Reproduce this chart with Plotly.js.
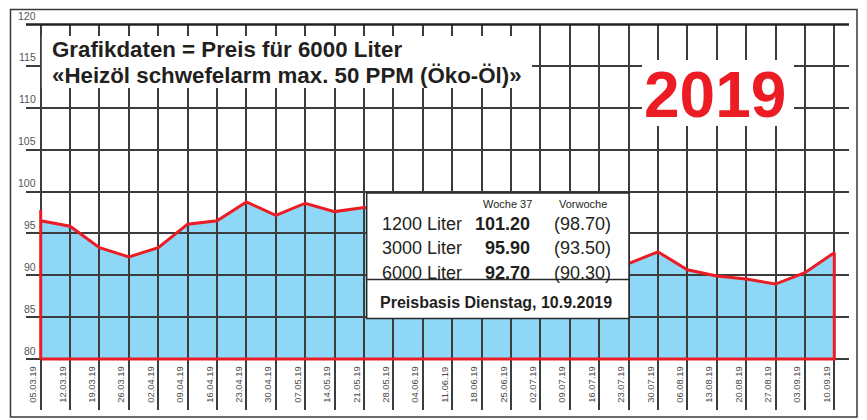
<!DOCTYPE html>
<html>
<head>
<meta charset="utf-8">
<script src="https://cdn.plot.ly/plotly-3.0.1.min.js"></script>
<style>html,body{margin:0;padding:0;background:#fff;}#chart{width:867px;height:420px;}</style>
</head>
<body>
<div id="chart"></div>
<script>
// ---- data ----
const dates = ['05.03.19','12.03.19','19.03.19','26.03.19','02.04.19','09.04.19','16.04.19','23.04.19',
  '30.04.19','07.05.19','14.05.19','21.05.19','28.05.19','04.06.19','11.06.19','18.06.19','25.06.19',
  '02.07.19','09.07.19','16.07.19','23.07.19','30.07.19','06.08.19','13.08.19','20.08.19','27.08.19',
  '03.09.19','10.09.19'];
const prices = [96.5, 95.85, 93.3, 92.2, 93.3, 96.1, 96.5, 98.75, 97.15, 98.6, 97.6, 98.1,
  97.6, 96.8, 95.9, 95.2, 96.3, 97.0, 96.1, 93.8, 91.4, 92.8, 90.65, 89.9, 89.55, 88.95, 90.3, 92.7];
const openingLevel = 97.8;   // red edge at the left end rises above the first value
const baseLevel = 80;
const yTicks = [80, 85, 90, 95, 100, 105, 110, 115, 120];

const tableLabels = ['1200 Liter', '3000 Liter', '6000 Liter'];
const week37 = [101.20, 95.90, 92.70];
const prevWeek = [98.70, 93.50, 90.30];
const tableHead = ['Woche 37', 'Vorwoche'];
const footer = 'Preisbasis Dienstag, 10.9.2019';
const titleLines = ['Grafikdaten = Preis für 6000 Liter', '«Heizöl schwefelarm max. 50 PPM (Öko-Öl)»'];
const yearLabel = '2019';

// ---- geometry helpers (pixel -> paper) ----
const W = 867, Hh = 420;
const L = 26, R = 849, T = 24, PB = 410;     // plot area in pixels (grid continues into label strip)
const k = 335 / 40;                          // pixels per price unit
const yMax = 120;
const yMin = 80 - (PB - 359) / k;            // value at the bottom of the label strip
const X = p => (p - L) / (R - L);
const Y = p => (PB - p) / (PB - T);
const xRange = [-0.5, 27.5];
const pxPerCat = (R - L) / (xRange[1] - xRange[0]);
const labelOffset = 7.5 / pxPerCat;          // date labels sit just left of their grid line

const idx = dates.map((d, i) => i);
const RED = '#ec1c24';
const GRID = '#3c3c3c';
const SANS = 'Liberation Sans, Arial, sans-serif';

const fillTrace = {
  x: idx.concat([idx[idx.length - 1], idx[0]]),
  y: prices.concat([baseLevel, baseLevel]),
  xaxis: 'x', yaxis: 'y',
  mode: 'lines', fill: 'toself', fillcolor: '#8fd7f6',
  line: {width: 0}, hoverinfo: 'skip'
};
const outline = {
  x: [idx[0], idx[0]].concat(idx, [idx[idx.length - 1], idx[0]]),
  y: [baseLevel, openingLevel].concat(prices, [baseLevel, baseLevel]),
  xaxis: 'x2', yaxis: 'y2',
  mode: 'lines', line: {color: RED, width: 3}, hoverinfo: 'skip'
};

const shapes = [];
shapes.push({type: 'rect', xref: 'paper', yref: 'paper', x0: X(10.5), x1: X(857), y0: Y(417), y1: Y(9.5),
  fillcolor: 'rgba(0,0,0,0)', line: {color: '#3a3a3a', width: 1.5}, layer: 'above'});
shapes.push({type: 'line', xref: 'paper', yref: 'paper', x0: 0, x1: 1, y0: Y(T + 0.5), y1: Y(T + 0.5),
  line: {color: '#222', width: 2.4}, layer: 'above'});
shapes.push({type: 'rect', xref: 'paper', yref: 'paper', x0: X(41.8), x1: X(532), y0: Y(88), y1: Y(36),
  fillcolor: '#fff', line: {width: 0}, layer: 'above'});
shapes.push({type: 'rect', xref: 'paper', yref: 'paper', x0: X(642), x1: X(794), y0: Y(126), y1: Y(60),
  fillcolor: '#fff', line: {width: 0}, layer: 'above'});
shapes.push({type: 'rect', xref: 'paper', yref: 'paper', x0: X(366.7), x1: X(629), y0: Y(318.5), y1: Y(193),
  fillcolor: '#fff', line: {color: '#2a2a2a', width: 1.5}, layer: 'above'});
shapes.push({type: 'line', xref: 'paper', yref: 'paper', x0: X(366.7), x1: X(629), y0: Y(279.5), y1: Y(279.5),
  line: {color: '#2a2a2a', width: 1.3}, layer: 'above'});

const ann = [];
yTicks.forEach(v => ann.push({xref: 'paper', yref: 'y', x: X(36.5), y: v, xanchor: 'right', yanchor: 'bottom',
  yshift: 1.5, text: String(v), showarrow: false, borderpad: 0,
  font: {family: SANS, size: 10.5, color: '#555'}}));
const titleY = [49.8, 75.4];
titleLines.forEach((t, j) => ann.push({xref: 'paper', yref: 'paper', x: X(51), y: Y(titleY[j]),
  xanchor: 'left', yanchor: 'middle', align: 'left', text: '<b>' + t + '</b>', showarrow: false, borderpad: 0,
  font: {family: SANS, size: 22.3, color: '#231f20'}}));
ann.push({xref: 'paper', yref: 'paper', x: X(714.5), y: Y(95), xanchor: 'center', yanchor: 'middle',
  text: '<b>' + yearLabel + '</b>', showarrow: false, borderpad: 0,
  font: {family: SANS, size: 64, color: RED}});
const tf = {family: SANS, color: '#231f20'};
ann.push({xref: 'paper', yref: 'paper', x: X(533), y: Y(203.5), xanchor: 'right', yanchor: 'middle',
  text: tableHead[0], showarrow: false, borderpad: 0, font: Object.assign({size: 11}, tf)});
ann.push({xref: 'paper', yref: 'paper', x: X(608), y: Y(203.5), xanchor: 'right', yanchor: 'middle',
  text: tableHead[1], showarrow: false, borderpad: 0, font: Object.assign({size: 11}, tf)});
const rowY = [224, 248, 272.5];
tableLabels.forEach((lab, r) => {
  ann.push({xref: 'paper', yref: 'paper', x: X(381), y: Y(rowY[r]), xanchor: 'left', yanchor: 'middle',
    text: lab, showarrow: false, borderpad: 0, font: Object.assign({size: 18}, tf)});
  ann.push({xref: 'paper', yref: 'paper', x: X(531), y: Y(rowY[r]), xanchor: 'right', yanchor: 'middle',
    text: '<b>' + week37[r].toFixed(2) + '</b>', showarrow: false, borderpad: 0, font: Object.assign({size: 18}, tf)});
  ann.push({xref: 'paper', yref: 'paper', x: X(611.5), y: Y(rowY[r]), xanchor: 'right', yanchor: 'middle',
    text: '(' + prevWeek[r].toFixed(2) + ')', showarrow: false, borderpad: 0, font: Object.assign({size: 18}, tf)});
});
ann.push({xref: 'paper', yref: 'paper', x: X(496), y: Y(302), xanchor: 'center', yanchor: 'middle',
  text: '<b>' + footer + '</b>', showarrow: false, borderpad: 0, font: Object.assign({size: 16}, tf)});

const axX = {range: xRange, showticklabels: false, ticks: '', zeroline: false, showline: false, fixedrange: true};
const axY = {range: [yMin, yMax], showticklabels: false, ticks: '', zeroline: false, showline: false, fixedrange: true};

const layout = {
  width: W, height: Hh,
  margin: {l: L, r: W - R, t: T, b: Hh - PB, pad: 0},
  paper_bgcolor: '#fff', plot_bgcolor: 'rgba(0,0,0,0)',
  showlegend: false,
  xaxis: Object.assign({}, axX, {showgrid: false, domain: [0, 1]}),
  yaxis: Object.assign({}, axY, {showgrid: false, domain: [0, 1]}),
  xaxis2: Object.assign({}, axX, {anchor: 'y2', domain: [0, 1], showgrid: true, tick0: 0, dtick: 1,
    gridcolor: GRID, gridwidth: 2}),
  yaxis2: Object.assign({}, axY, {anchor: 'x2', domain: [0, 1], showgrid: true, tickmode: 'array',
    tickvals: yTicks, gridcolor: GRID, gridwidth: 2}),
  // date labels as real tick labels in the strip below the chart, just left of each grid line
  xaxis3: Object.assign({}, axX, {overlaying: 'x2', anchor: 'y2', side: 'bottom', showgrid: false,
    tickmode: 'array', tickvals: idx.map(i => i - labelOffset), ticktext: dates,
    showticklabels: true, tickangle: -90, ticklabelposition: 'inside', ticklabelstandoff: 1,
    tickfont: {family: SANS, size: 9.4, color: '#4a4a4a'}}),
  shapes: shapes,
  annotations: ann
};

const labelHost = {x: [], y: [], xaxis: 'x3', yaxis: 'y2', mode: 'lines', hoverinfo: 'skip'};

Plotly.newPlot('chart', [fillTrace, outline, labelHost], layout, {displayModeBar: false, staticPlot: true});
</script>
</body>
</html>
